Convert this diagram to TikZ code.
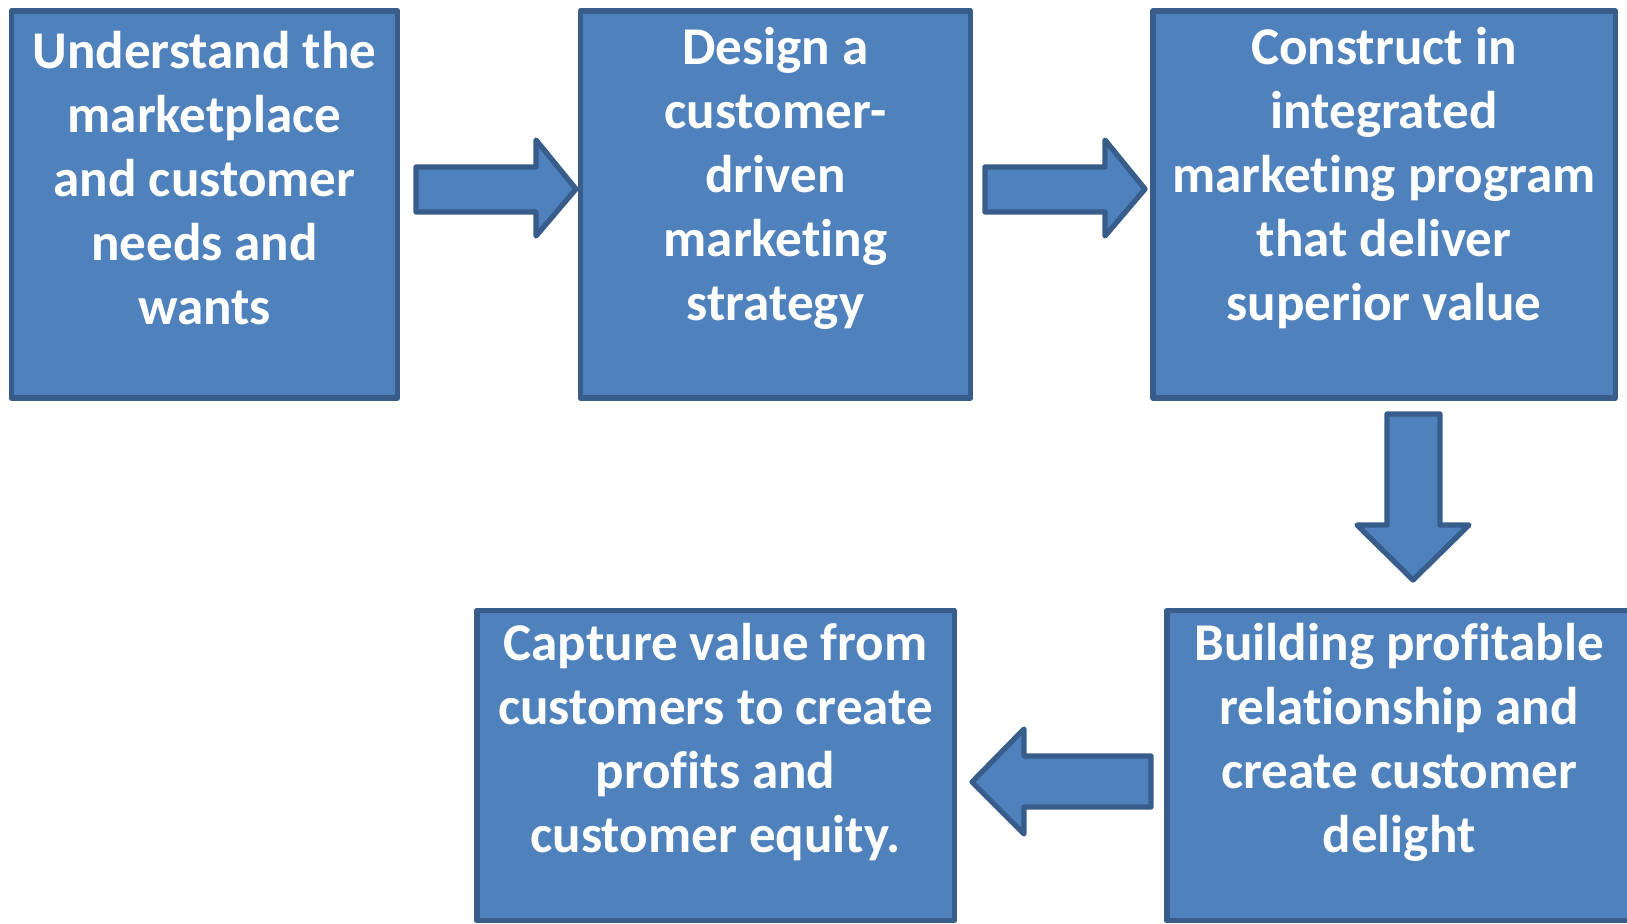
\documentclass[tikz,border=0pt]{standalone}
\usepackage{fontspec}
\setmainfont{Carlito}[RawFeature={-liga;-clig;-calt;-dlig}]
\usepackage{tikz}
\usetikzlibrary{arrows.meta}

\begin{document}
\begin{tikzpicture}[x=0.01cm, y=-0.01cm, line width=1.5pt, line join=round]

\definecolor{boxblue}{RGB}{79, 129, 189}
\definecolor{edgeblue}{RGB}{56, 93, 138}

\tikzset{
  stepbox/.style={draw=edgeblue, fill=boxblue, inner sep=0pt},
  steptext/.style={text=white, align=center, inner sep=0pt,
    font=\bfseries\fontsize{15.1pt}{18.2pt}\selectfont},
  blockarrow/.style={draw=edgeblue, fill=boxblue}
}

\useasboundingbox (0,0) rectangle (1627,923);

% Boxes in the top row
\node[stepbox, minimum width=3.86cm, minimum height=3.87cm] (understand) at (204.5, 204.5) {};
\node[stepbox, minimum width=3.90cm, minimum height=3.87cm] (design) at (775.5, 204.5) {};
\node[stepbox, minimum width=4.62cm, minimum height=3.87cm] (construct) at (1384, 204.5) {};

% Boxes in the bottom row
\node[stepbox, minimum width=4.64cm, minimum height=3.10cm] (building) at (1399, 765.5) {};
\node[stepbox, minimum width=4.77cm, minimum height=3.10cm] (capture) at (715.5, 765.5) {};

% Texts
\node[steptext] (understandtext) at (204.5, 178) {Understand the\\marketplace\\and customer\\needs and\\wants};
\node[steptext] (designtext) at (775.5, 178) {Design a\\customer-\\driven\\marketing\\strategy};
\node[steptext] (constructtext) at (1384, 178) {Construct in\\integrated\\marketing program\\that deliver\\superior value};
\node[steptext] (buildingtext) at (1399, 742) {Building profitable\\relationship and\\create customer\\delight};
\node[steptext] (capturetext) at (715.5, 742) {Capture value from\\customers to create\\profits and\\customer equity.};

% Block arrows between boxes
\draw[blockarrow] (416,167) -- (536,167) -- (536,140) -- (576,189) -- (536,236) -- (536,212) -- (416,212) -- cycle;
\draw[blockarrow] (985,167) -- (1105,167) -- (1105,140) -- (1145,189) -- (1105,236) -- (1105,212) -- (985,212) -- cycle;
\draw[blockarrow] (1387,414) -- (1440,414) -- (1440,525) -- (1469,525) -- (1413,580) -- (1357,525) -- (1387,525) -- cycle;
\draw[blockarrow] (1151,756) -- (1024,756) -- (1024,729) -- (972,782) -- (1024,834) -- (1024,807) -- (1151,807) -- cycle;

\end{tikzpicture}
\end{document}
